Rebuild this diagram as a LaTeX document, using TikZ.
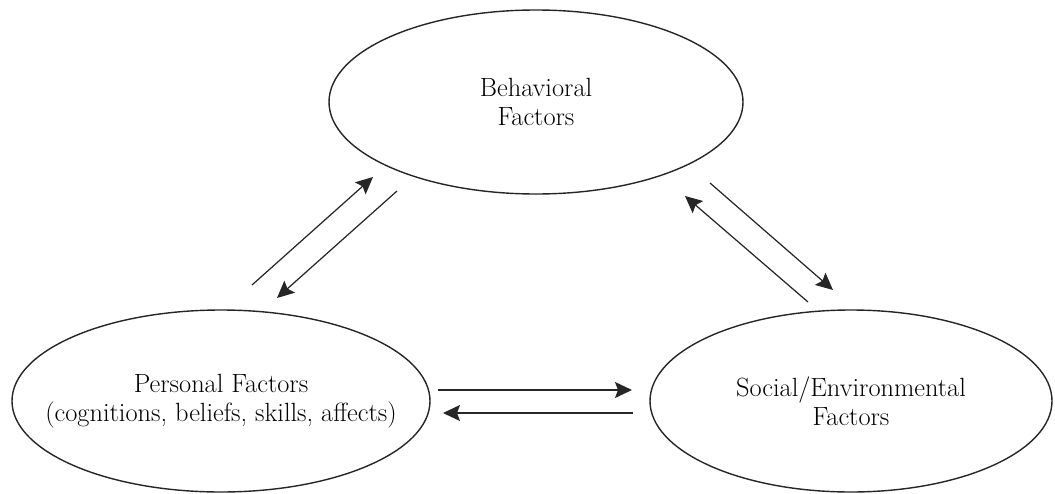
\documentclass[tikz,border=0pt]{standalone}
\usepackage{tikz}
\usetikzlibrary{shapes.geometric,arrows.meta,positioning}

\begin{document}
\begin{tikzpicture}[
        factor/.style={ellipse, draw=black!85, line width=0.8pt, inner sep=0pt, inner xsep=-1.2cm, align=center, font=\fontsize{15}{16.5}\selectfont},
        arrow/.style={-{Stealth[length=0.34cm, width=0.32cm, inset=0.06cm]}, draw=black!85, line width=0.7pt}
    ]
    \useasboundingbox (0,0) rectangle (21.1,9.86);

    % The three factors
    \node[factor, minimum width=8.28cm, minimum height=3.68cm] (beh) at (10.72, 7.82) {Behavioral\\Factors};
    \node[factor, minimum width=8.36cm, minimum height=3.64cm] (pers) at (4.42, 1.84) {Personal Factors\\(cognitions, beliefs, skills, affects)};
    \node[factor, minimum width=8.04cm, minimum height=3.64cm] (soc) at (17.02, 1.84) {Social/Environmental\\Factors};

    % Free ends of the arrows
    \coordinate (pb1) at (5.04, 4.16);
    \coordinate (pb2) at (7.46, 6.32);
    \coordinate (bp1) at (7.94, 6.04);
    \coordinate (bp2) at (5.54, 3.90);
    \coordinate (sb1) at (16.16, 3.82);
    \coordinate (sb2) at (13.70, 5.94);
    \coordinate (bs1) at (14.20, 6.20);
    \coordinate (bs2) at (16.66, 4.06);
    \coordinate (ps1) at (8.76, 2.06);
    \coordinate (ps2) at (12.64, 2.06);
    \coordinate (sp1) at (12.66, 1.60);
    \coordinate (sp2) at (8.86, 1.60);

    % Personal <-> Behavioral
    \draw[arrow] (pb1) -- (pb2);
    \draw[arrow] (bp1) -- (bp2);

    % Social <-> Behavioral
    \draw[arrow] (sb1) -- (sb2);
    \draw[arrow] (bs1) -- (bs2);

    % Personal <-> Social
    \draw[arrow] (ps1) -- (ps2);
    \draw[arrow] (sp1) -- (sp2);

\end{tikzpicture}
\end{document}
